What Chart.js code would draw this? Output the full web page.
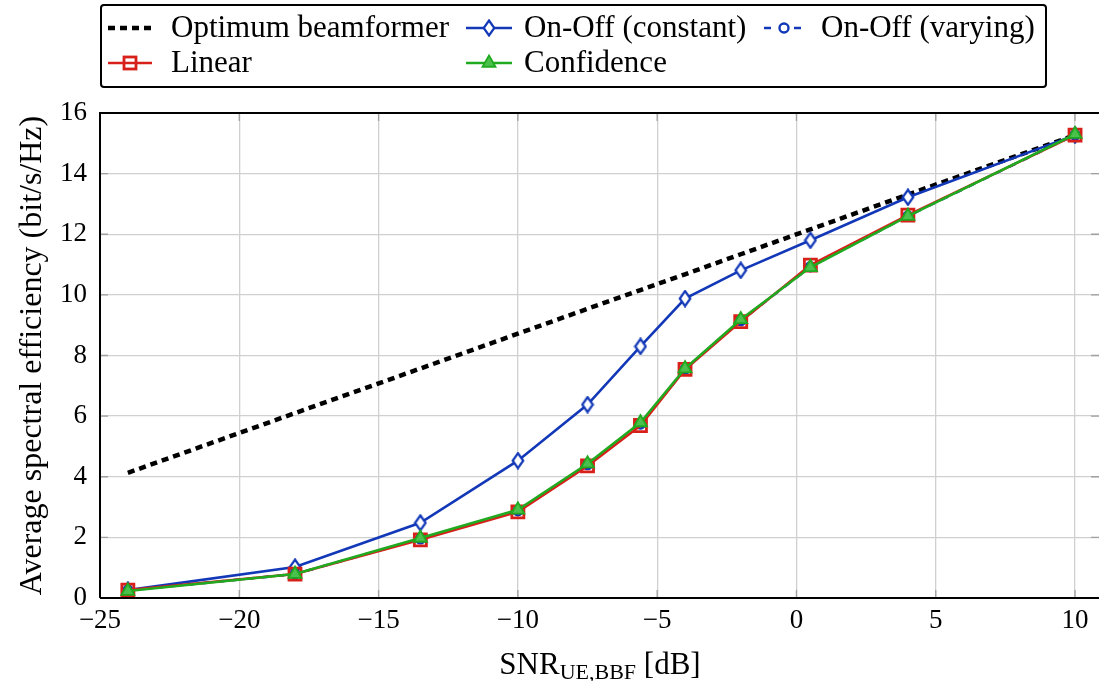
<!DOCTYPE html>
<html>
<head>
<meta charset="utf-8">
<script src="https://cdn.jsdelivr.net/npm/chart.js@4.4.1/dist/chart.umd.min.js"></script>
<style>
html,body{margin:0;padding:0;background:#fff;}
#wrap{width:1099px;height:681px;position:relative;}
</style>
</head>
<body>
<div id="wrap"><canvas id="c" width="1099" height="681"></canvas></div>
<script>
// ---- data ----
const snrDb = [-24, -18, -13.5, -10, -7.5, -5.6, -4, -2, 0.5, 4, 10];
const optimum    = [4.13, 6.10, 7.57, 8.72, 9.54, 10.16, 10.68, 11.34, 12.16, 13.31, 15.27];
const onOffConst = [0.26, 1.02, 2.48, 4.53, 6.38, 8.30, 9.88, 10.81, 11.80, 13.22, 15.27];
const onOffVar   = [0.25, 0.79, 1.95, 2.88, 4.40, 5.74, 7.55, 9.15, 10.93, 12.60, 15.28];
const linear     = [0.26, 0.79, 1.92, 2.84, 4.36, 5.69, 7.54, 9.12, 10.98, 12.63, 15.27];
const confidence = [0.23, 0.79, 1.98, 2.91, 4.43, 5.79, 7.57, 9.19, 10.91, 12.60, 15.30];
const xTickValues = [-25, -20, -15, -10, -5, 0, 5, 10];
const yTickValues = [0, 2, 4, 6, 8, 10, 12, 14, 16];
const seriesLabels = ['Optimum beamformer', 'On-Off (constant)', 'On-Off (varying)', 'Linear', 'Confidence'];
const xTitleMain = 'SNR', xTitleSub = 'UE,BBF', xTitleUnit = ' [dB]';
const yTitle = 'Average spectral efficiency (bit/s/Hz)';

const BLUE = '#1238b8', RED = '#d8201a', GREEN = '#20aa20', BLACK = '#000';
const SERIF = '"Liberation Serif", "DejaVu Serif", serif';

function pts(arr){ return snrDb.map((x,i)=>({x:x, y:arr[i]})); }

// diamond marker image
function diamondImg(){
  const c = document.createElement('canvas');
  c.width = 14; c.height = 18;
  const g = c.getContext('2d');
  g.beginPath();
  g.moveTo(7,1.5); g.lineTo(12.3,9); g.lineTo(7,16.5); g.lineTo(1.7,9); g.closePath();
  g.fillStyle = '#fff'; g.fill();
  g.lineWidth = 2.2; g.strokeStyle = BLUE; g.stroke();
  return c;
}
const DIA = diamondImg();

function fmt(v){ return v < 0 ? '\u2212' + Math.abs(v) : String(v); }

function drawMarker(g, kind, x, y){
  g.save();
  g.setLineDash([]);
  if (kind === 'diamond'){
    g.drawImage(DIA, x - DIA.width/2, y - DIA.height/2);
  } else if (kind === 'square'){
    g.lineWidth = 2.8; g.strokeStyle = RED;
    g.strokeRect(x-6, y-6, 12, 12);
  } else if (kind === 'triangle'){
    g.beginPath();
    const r = 7.5;
    for (let k=0;k<3;k++){ const a = -Math.PI/2 + k*2*Math.PI/3; const px = x + r*Math.cos(a), py = y + r*Math.sin(a); k?g.lineTo(px,py):g.moveTo(px,py); }
    g.closePath(); g.fillStyle = '#4cc04c'; g.fill(); g.lineWidth=1.8; g.strokeStyle = GREEN; g.stroke();
  } else if (kind === 'circle'){
    g.beginPath(); g.arc(x,y,4.5,0,2*Math.PI); g.fillStyle='#fff'; g.fill(); g.lineWidth=2.4; g.strokeStyle=BLUE; g.stroke();
  }
  g.restore();
}

const deco = {
  id: 'deco',
  beforeDatasetsDraw(chart){
    const g = chart.ctx, a = chart.chartArea, xs = chart.scales.x, ys = chart.scales.y;
    g.save();
    g.strokeStyle = '#a0a0a0'; g.lineWidth = 1.3;
    xTickValues.forEach(v=>{ const px = xs.getPixelForValue(v); g.beginPath(); g.moveTo(px,a.bottom); g.lineTo(px,a.bottom-8); g.moveTo(px,a.top); g.lineTo(px,a.top+8); g.stroke(); });
    yTickValues.forEach(v=>{ const py = ys.getPixelForValue(v); g.beginPath(); g.moveTo(a.left,py); g.lineTo(a.left+8,py); g.moveTo(a.right,py); g.lineTo(a.right-8,py); g.stroke(); });
    g.restore();
  },
  afterDraw(chart){
    const g = chart.ctx, a = chart.chartArea;
    g.save();
    // frame
    g.strokeStyle = BLACK; g.lineWidth = 2;
    g.beginPath(); g.moveTo(a.left, a.bottom); g.lineTo(a.left, a.top); g.lineTo(a.right+2, a.top); g.stroke();
    g.beginPath(); g.moveTo(a.left, a.bottom); g.lineTo(a.right+2, a.bottom); g.stroke();
    // axis titles
    g.fillStyle = BLACK;
    g.font = '31px ' + SERIF;
    const w1 = g.measureText(xTitleMain).width;
    g.font = '22px ' + SERIF;
    const w2 = g.measureText(xTitleSub).width;
    g.font = '31px ' + SERIF;
    const w3 = g.measureText(xTitleUnit).width;
    let x0 = 600 - (w1+w2+w3)/2, by = 674;
    g.textBaseline = 'alphabetic'; g.textAlign = 'left';
    g.fillText(xTitleMain, x0, by);
    g.font = '22px ' + SERIF; g.fillText(xTitleSub, x0+w1, by+5);
    g.font = '31px ' + SERIF; g.fillText(xTitleUnit, x0+w1+w2, by);
    g.save();
    g.translate(33, (a.top+a.bottom)/2); g.rotate(-Math.PI/2);
    g.textAlign = 'center'; g.textBaseline = 'middle';
    g.font = '32px ' + SERIF;
    g.fillText(yTitle, 0, 0);
    g.restore();
    // legend
    g.lineWidth = 2; g.strokeStyle = BLACK;
    g.beginPath();
    if (g.roundRect) g.roundRect(101, 5, 945, 82, 3); else g.rect(101,5,945,82);
    g.stroke();
    const entries = [
      {lab: seriesLabels[0], x:108, y:28, color:BLACK, dash:[7,5], lw:4.5, mk:null, len:44},
      {lab: seriesLabels[1], x:466, y:28, color:BLUE, dash:[], lw:2.6, mk:'diamond', len:46},
      {lab: seriesLabels[2], x:764, y:28, color:BLUE, dash:[7,8], lw:2.6, mk:'circle', len:40},
      {lab: seriesLabels[3], x:108, y:63, color:RED, dash:[], lw:2.6, mk:'square', len:44},
      {lab: seriesLabels[4], x:466, y:63, color:GREEN, dash:[], lw:2.6, mk:'triangle', len:46}
    ];
    const textX = [171, 524, 821];
    entries.forEach((e,i)=>{
      g.save();
      g.strokeStyle = e.color; g.lineWidth = e.lw; g.setLineDash(e.dash);
      g.beginPath(); g.moveTo(e.x, e.y); g.lineTo(e.x+e.len, e.y); g.stroke();
      g.restore();
      if (e.mk) drawMarker(g, e.mk, e.x+e.len/2, e.y);
      g.fillStyle = BLACK; g.font = '31px ' + SERIF; g.textAlign='left'; g.textBaseline='middle';
      const tx = e.x < 200 ? textX[0] : (e.x < 600 ? textX[1] : textX[2]);
      g.fillText(e.lab, tx, e.y+1);
    });
    g.restore();
  }
};

const ds = [
  {label: seriesLabels[0], data: pts(optimum), borderColor: BLACK, borderWidth: 4.5, borderDash:[7,5], pointRadius:0, order:5},
  {label: seriesLabels[1], data: pts(onOffConst), borderColor: BLUE, borderWidth: 2.6, pointStyle: DIA, pointRadius: 7, order:4},
  {label: seriesLabels[2], data: pts(onOffVar), borderColor: BLUE, borderWidth: 2.6, borderDash:[7,8], pointStyle:'circle', pointRadius:4.5, pointBorderWidth:2.4, pointBackgroundColor:'#fff', pointBorderColor:BLUE, order:3},
  {label: seriesLabels[3], data: pts(linear), borderColor: RED, borderWidth: 2.6, pointStyle:'rect', pointRadius:8.5, pointBorderWidth:2.8, pointBackgroundColor:'rgba(0,0,0,0)', pointBorderColor:RED, order:2},
  {label: seriesLabels[4], data: pts(confidence), borderColor: GREEN, borderWidth: 2.6, pointStyle:'triangle', pointRadius:7.5, pointBorderWidth:1.8, pointBackgroundColor:'#4cc04c', pointBorderColor:GREEN, order:1}
];
ds.forEach(d=>{ d.fill=false; d.tension=0; d.pointHoverRadius=d.pointRadius; });

new Chart(document.getElementById('c'), {
  type: 'line',
  data: { datasets: ds },
  plugins: [deco],
  options: {
    responsive: false, animation: false, devicePixelRatio: 1,
    layout: { autoPadding: false, padding: { top: 113, left: 0, right: 0, bottom: 0 } },
    plugins: { legend: { display: false }, tooltip: { enabled: false } },
    scales: {
      x: {
        type: 'linear', min: -25, max: 10.86,
        afterFit: s => { s.height = 83; s.paddingLeft = 0; s.paddingRight = 0; },
        afterBuildTicks: s => { s.ticks = xTickValues.map(v=>({value:v})); },
        grid: { color: '#d0d0d0', lineWidth: 1.3, drawTicks: false },
        border: { display: false },
        ticks: { color: BLACK, font: { family: SERIF, size: 27 }, padding: 7, maxRotation: 0, callback: v => fmt(v) }
      },
      y: {
        min: 0, max: 16,
        afterFit: s => { s.width = 100; s.paddingTop = 0; s.paddingBottom = 0; },
        afterBuildTicks: s => { s.ticks = yTickValues.map(v=>({value:v})); },
        grid: { color: '#d0d0d0', lineWidth: 1.3, drawTicks: false },
        border: { display: false },
        ticks: { color: BLACK, font: { family: SERIF, size: 27 }, padding: 13, callback: v => fmt(v) }
      }
    }
  }
});
</script>
</body>
</html>
